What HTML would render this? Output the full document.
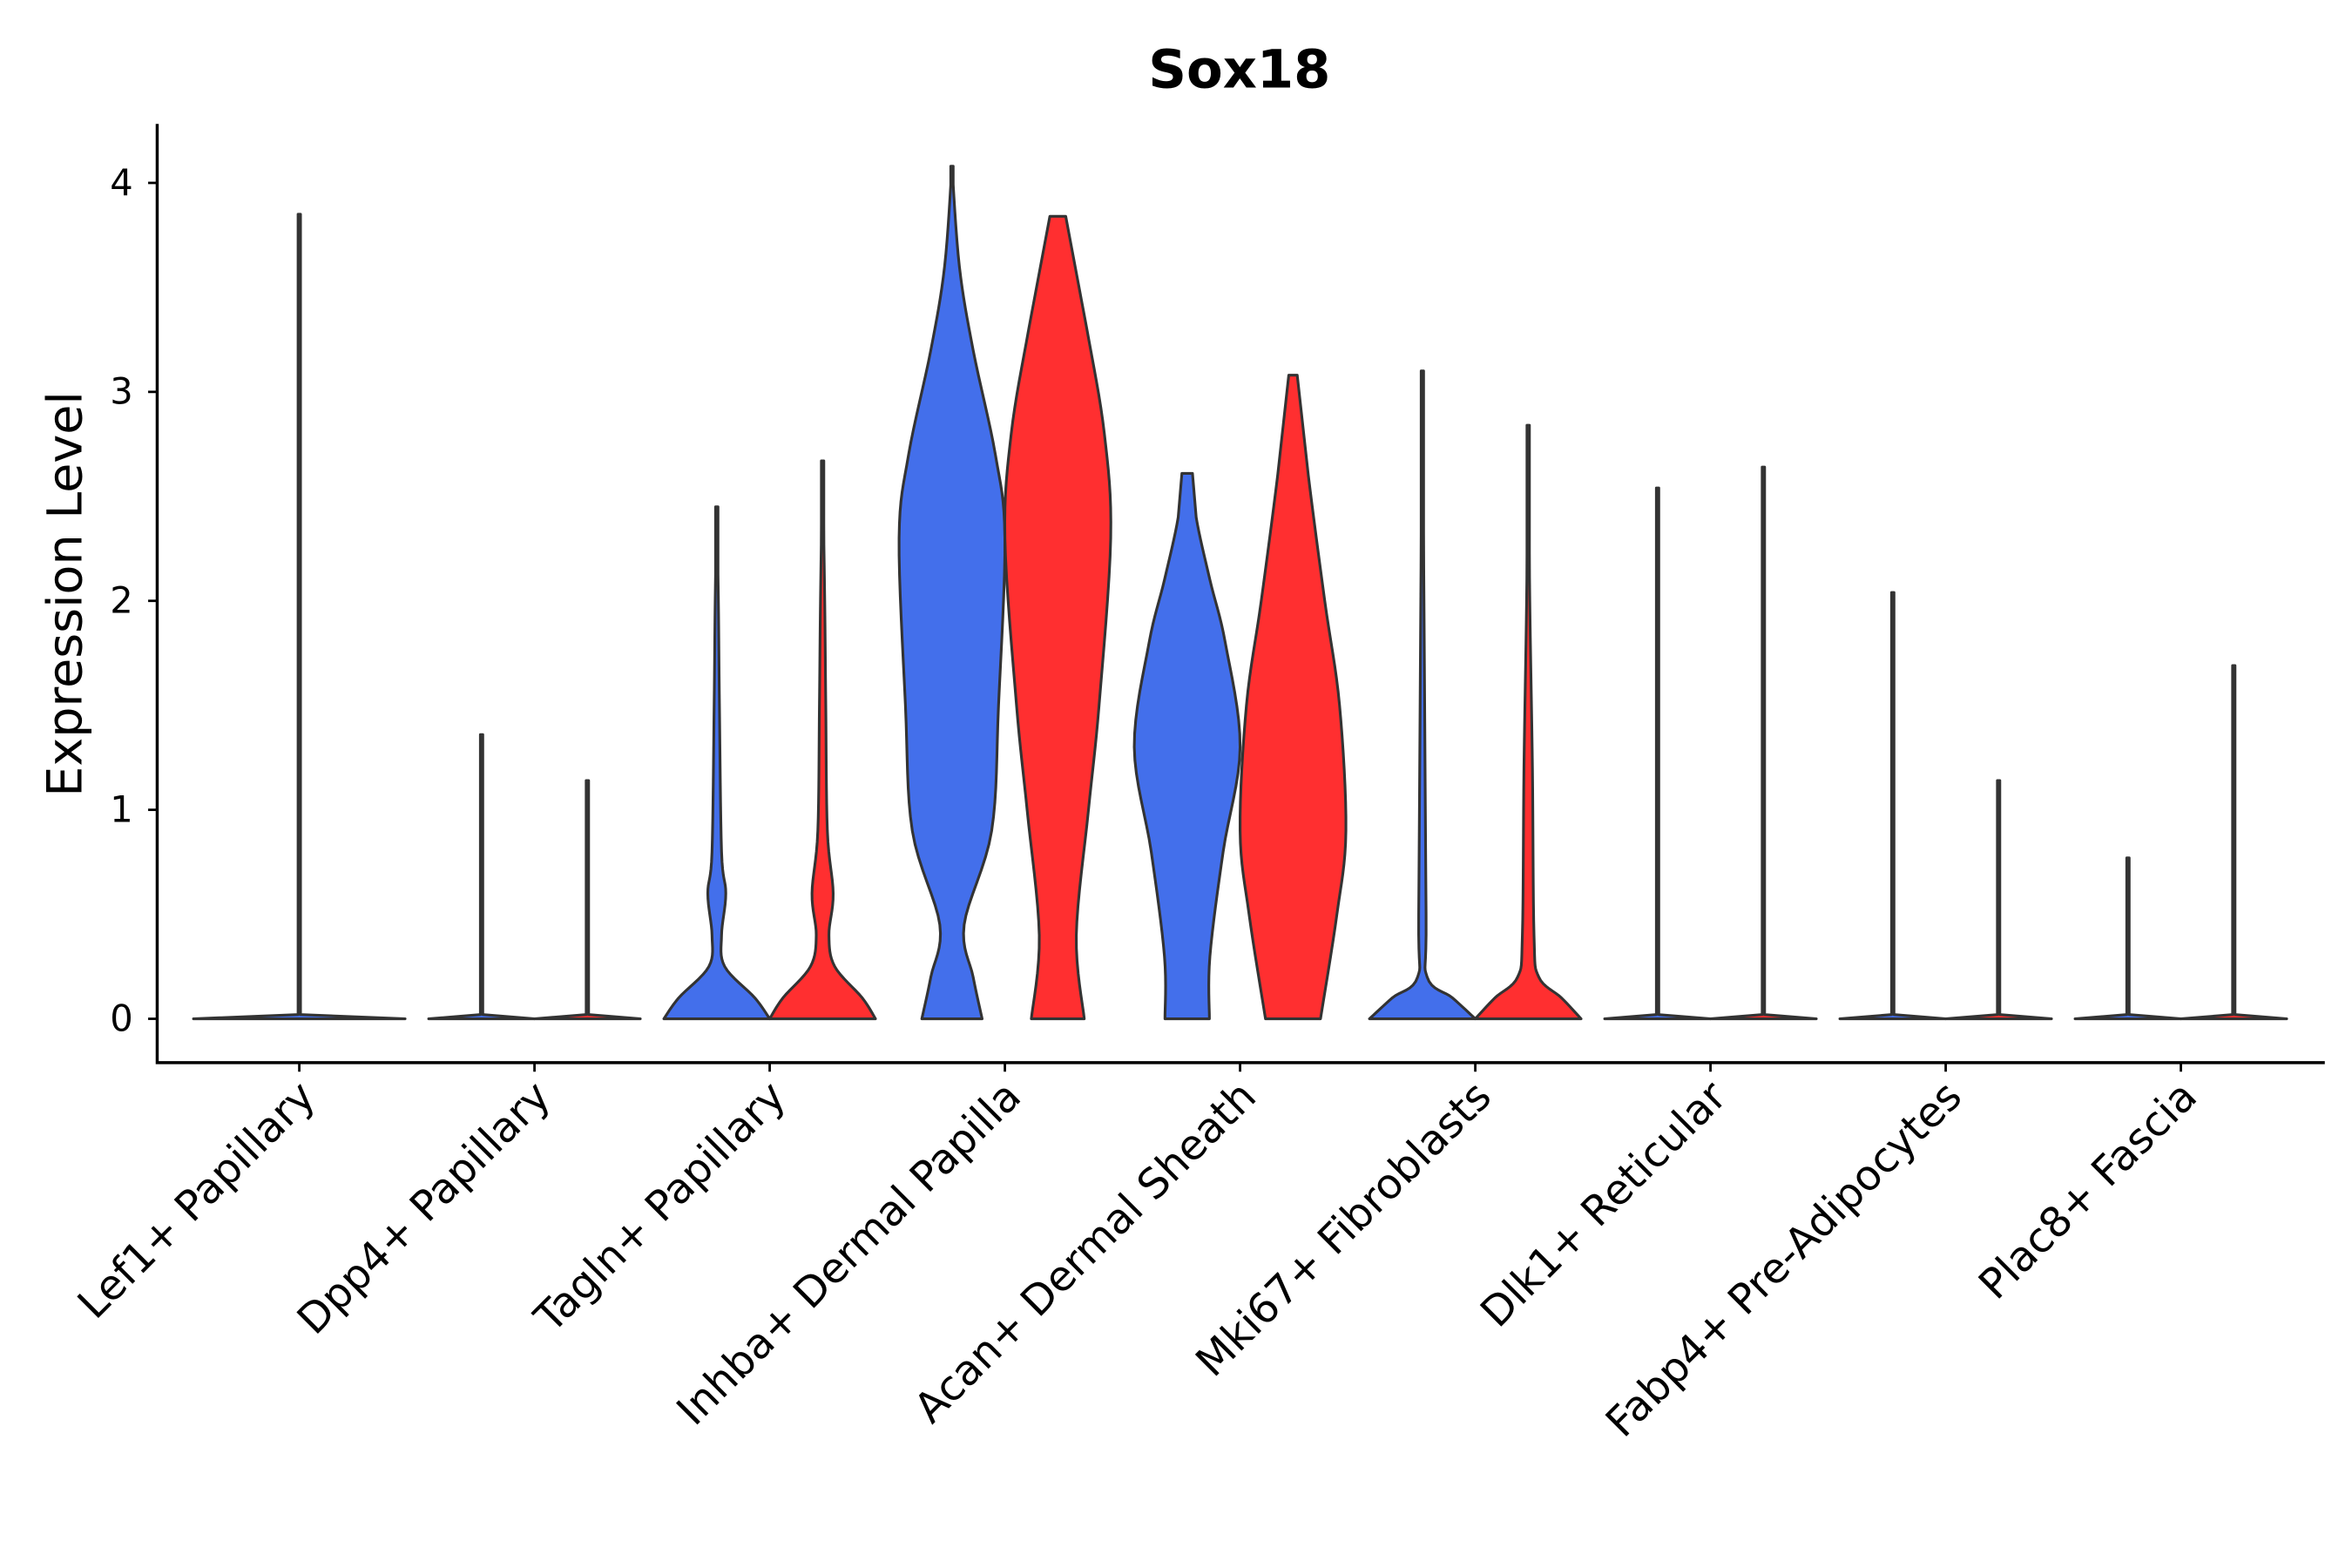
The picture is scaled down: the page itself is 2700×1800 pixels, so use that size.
<!DOCTYPE html>
<html><head><meta charset="utf-8"><style>html,body{margin:0;padding:0;background:#fff}svg{display:block}</style></head>
<body>
<svg id="chart" width="2700" height="1800" viewBox="0 0 1556 1037.33" xmlns="http://www.w3.org/2000/svg" font-family="'DejaVu Sans','Liberation Sans',sans-serif">
<rect width="1556" height="1038" fill="#fff"/>
<text x="820" y="58" text-anchor="middle" font-weight="bold" font-size="35">Sox18</text>
<text transform="translate(54,393) rotate(-90)" text-anchor="middle" font-size="32">Expression Level</text>
<g id="plot"></g>
</svg>
<script>
const categories = ["Lef1+ Papillary","Dpp4+ Papillary","Tagln+ Papillary","Inhba+ Dermal Papilla","Acan+ Dermal Sheath","Mki67+ Fibroblasts","Dlk1+ Reticular","Fabp4+ Pre-Adipocytes","Plac8+ Fascia"];
const yTicks = [0,1,2,3,4];
const violinCat = [0,1,1,2,2,3,3,4,4,5,5,6,6,7,7,8,8];
const violinGroup = [0,-1,1,-1,1,-1,1,-1,1,-1,1,-1,1,-1,1,-1,1];
const violinDensity = [
 [[0,2],[0.02,0.02],[3.85,0]],
 [[0,1],[0.02,0.02],[1.36,0]],
 [[0,1],[0.02,0.02],[1.14,0]],
 [[0,1],[0.1,0.72],[0.25,0.15],[0.4,0.09],[0.6,0.17],[0.8,0.09],[1.5,0.05],[2.0,0.03],[2.45,0]],
 [[0,1],[0.1,0.75],[0.25,0.23],[0.4,0.12],[0.6,0.2],[0.9,0.09],[1.5,0.06],[2.0,0.04],[2.67,0]],
 [[0,0.57],[0.2,0.4],[0.45,0.23],[0.9,0.75],[1.5,0.88],[2.3,1.0],[2.7,0.82],[3.2,0.4],[3.6,0.14],[4.08,0]],
 [[0,0.5],[0.4,0.35],[1.0,0.58],[1.5,0.78],[2.3,1.0],[2.8,0.88],[3.3,0.55],[3.84,0.15],[3.84,0]],
 [[0,0.42],[0.3,0.43],[0.8,0.68],[1.3,1.0],[1.8,0.72],[2.1,0.43],[2.4,0.17],[2.61,0.1],[2.61,0]],
 [[0,0.52],[0.5,0.83],[0.9,1.0],[1.5,0.88],[2.0,0.6],[2.6,0.29],[3.08,0.08],[3.08,0]],
 [[0,1],[0.1,0.57],[0.2,0.09],[0.5,0.07],[2.0,0.03],[3.1,0]],
 [[0,1],[0.1,0.63],[0.2,0.2],[0.4,0.11],[1.2,0.08],[2.0,0.03],[2.84,0]],
 [[0,1],[0.02,0.02],[2.54,0]],
 [[0,1],[0.02,0.02],[2.64,0]],
 [[0,1],[0.02,0.02],[2.04,0]],
 [[0,1],[0.02,0.02],[1.14,0]],
 [[0,1],[0.02,0.02],[0.77,0]],
 [[0,1],[0.02,0.02],[1.69,0]]
];
const NS="http://www.w3.org/2000/svg";
const plot=document.getElementById('plot');
const xL=104,xR=1538,yB=703,yTop=82;
const xScale=i=>198+i*155.6;
const yScale=v=>674-v*138.25;
const halfW=35, offset=35;
function mk(t,a){const e=document.createElementNS(NS,t);for(const k in a)e.setAttribute(k,a[k]);plot.appendChild(e);return e;}
function smooth(d){
  if(d.length<4) return d;
  const out=[];
  for(let i=0;i<d.length-1;i++){
    const p0=d[Math.max(i-1,0)],p1=d[i],p2=d[i+1],p3=d[Math.min(i+2,d.length-1)];
    if(p1[0]===p2[0]||p2[0]===p3[0]&&i===d.length-3){
      for(let s=0;s<8;s++){const t=s/8;out.push([p1[0]+(p2[0]-p1[0])*t,p1[1]+(p2[1]-p1[1])*t]);}
      continue;
    }
    for(let s=0;s<8;s++){
      const t=s/8,t2=t*t,t3=t2*t;
      const f=(a,b,c,e)=>0.5*((2*b)+(-a+c)*t+(2*a-5*b+4*c-e)*t2+(-a+3*b-3*c+e)*t3);
      out.push([Math.min(f(p0[0],p1[0],p2[0],p3[0]),p2[0]),Math.max(0,f(p0[1],p1[1],p2[1],p3[1]))]);
    }
  }
  out.push(d[d.length-1]);
  return out;
}
violinDensity.forEach((d0,i)=>{
  const d=smooth(d0);
  const cx=xScale(violinCat[i])+violinGroup[i]*offset;
  const right=d.map(p=>`${cx+Math.max(p[1]*halfW,0.8)},${yScale(p[0])}`);
  const left=d.slice().reverse().map(p=>`${cx-Math.max(p[1]*halfW,0.8)},${yScale(p[0])}`);
  const fill=violinGroup[i]>0?'#FF2F30':'#436FEB';
  const e=mk('polygon',{points:right.concat(left).join(' '),fill:fill,stroke:'#333','stroke-width':1.8,'stroke-linejoin':'round'});
  
  
});
const ax=mk('path',{d:`M${xL},${yTop}V${yB}H${xR}`,fill:'none',stroke:'#000','stroke-width':2});


yTicks.forEach(v=>{
  const y=yScale(v);
  const t=mk('line',{x1:xL-6,x2:xL,y1:y,y2:y,stroke:'#000','stroke-width':1.6});
  
  
  const l=mk('text',{x:xL-16,y:y+8,'text-anchor':'end','font-size':24});
  l.textContent=v;
  
  
});
categories.forEach((c,i)=>{
  const x=xScale(i);
  const t=mk('line',{x1:x,x2:x,y1:yB,y2:yB+6,stroke:'#000','stroke-width':1.6});
  
  
  const l=mk('text',{transform:`translate(${x+12},${yB+24}) rotate(-45)`,'text-anchor':'end','font-size':27.5});
  l.textContent=c;
  
  
});
</script>
</body></html>
